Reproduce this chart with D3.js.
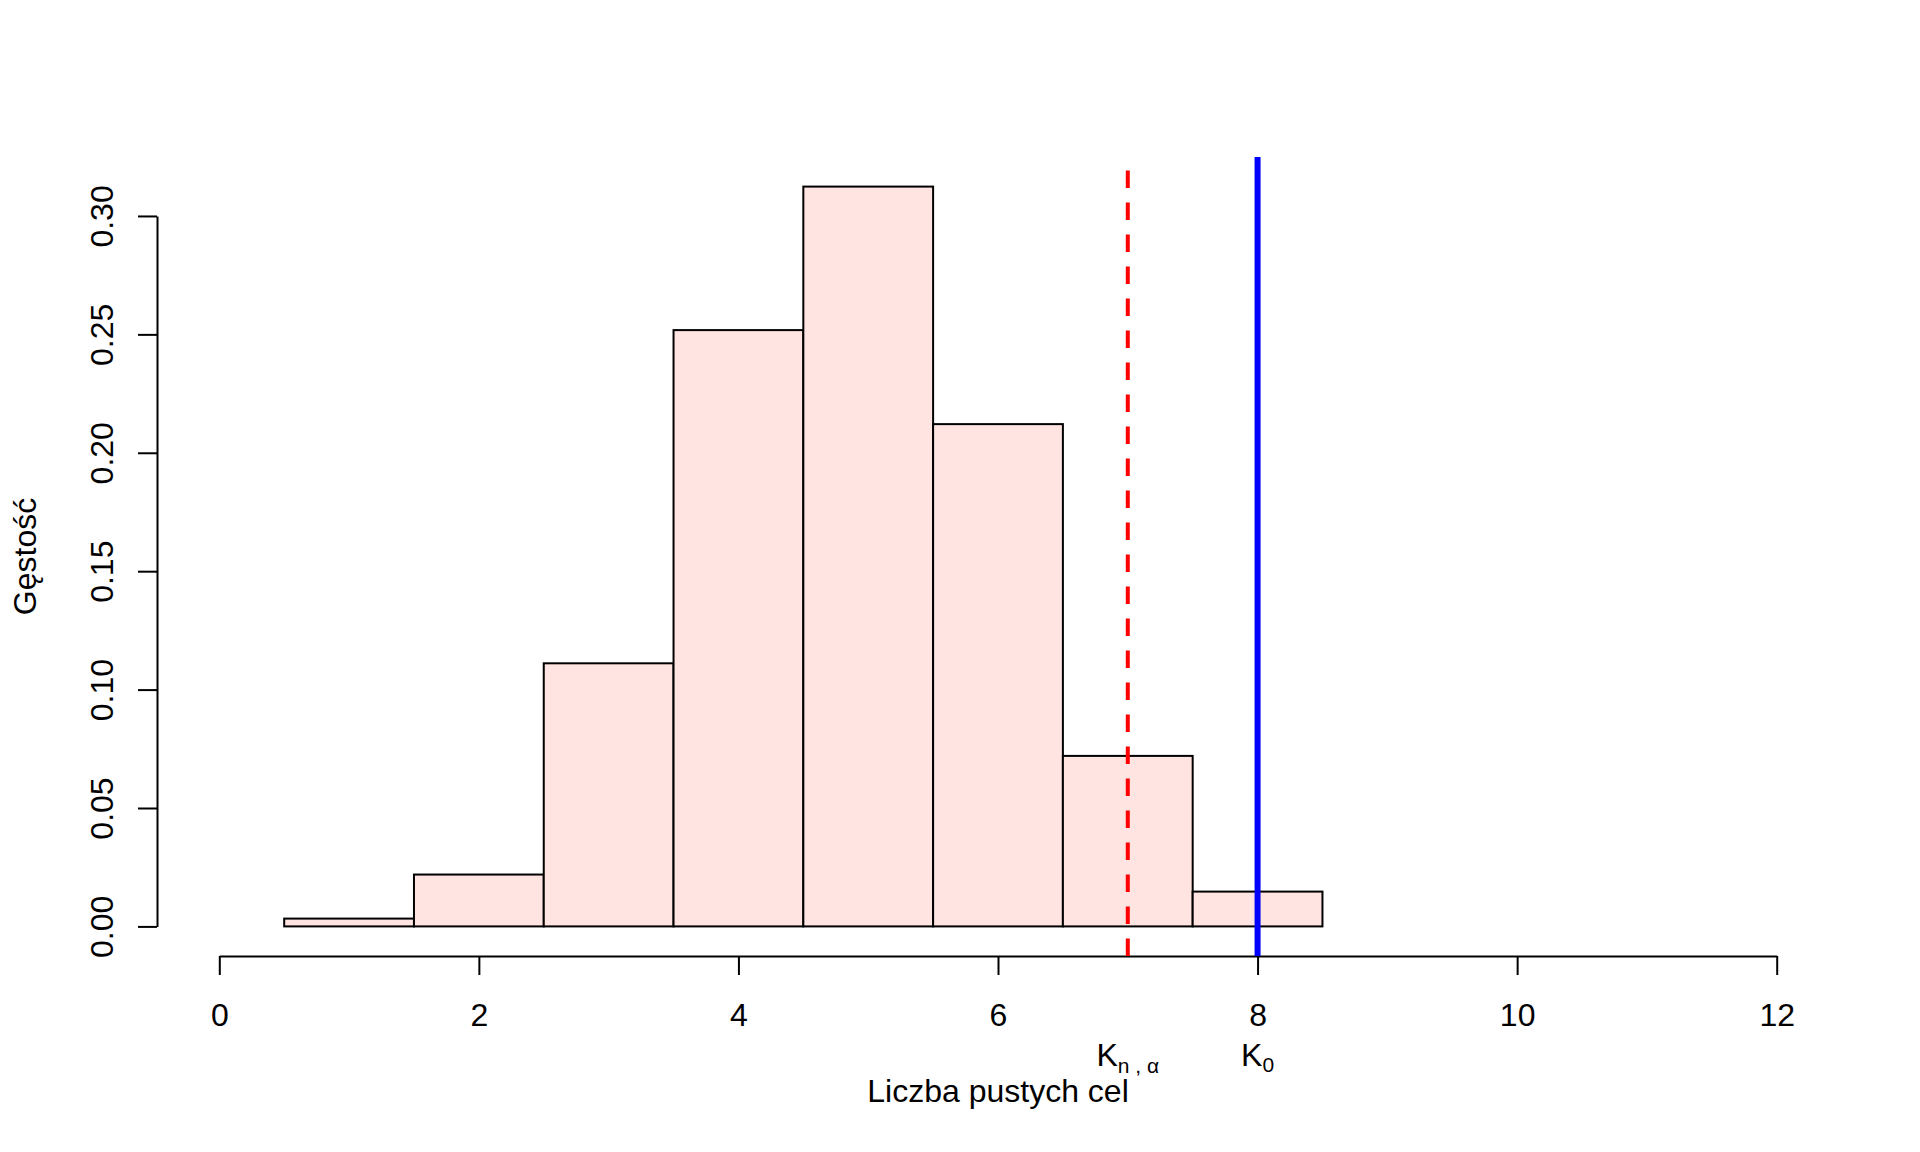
<!DOCTYPE html>
<html>
<head>
<meta charset="utf-8">
<script src="https://cdn.jsdelivr.net/npm/d3@7"></script>
<style>
  body { margin: 0; background: #fff; }
  svg { display: block; font-family: "Liberation Sans", Arial, sans-serif; }
</style>
</head>
<body>
<svg id="chart" width="1920" height="1152"></svg>
<script>
// histogram bins (left/right edges) and densities
var binStarts = [0.5, 1.5, 2.5, 3.5, 4.5, 5.5, 6.5, 7.5];
var binEnds   = [1.5, 2.5, 3.5, 4.5, 5.5, 6.5, 7.5, 8.5];
var densities = [0.0033, 0.0219, 0.1111, 0.2518, 0.3124, 0.2121, 0.0720, 0.0147];
var xTicks = [0, 2, 4, 6, 8, 10, 12];
var yTicks = [0, 0.05, 0.10, 0.15, 0.20, 0.25, 0.30];
var critValue = 7;   // K_{n,alpha}
var obsValue = 8;    // K_0
var xLabel = "Liczba pustych cel";
var yLabel = "Gęstość";

var W = 1920, H = 1152,
    margin = {left: 157, right: 81, top: 157, bottom: 196},
    fontSize = 32;

var svg = d3.select('#chart');

// R-like 4% range extension
var xlim = [0, 12], ylim = [0, d3.max(densities)];
var xr = (xlim[1] - xlim[0]) * 0.04, yr = (ylim[1] - ylim[0]) * 0.04;

var x = d3.scaleLinear().domain([xlim[0] - xr, xlim[1] + xr]).range([margin.left, W - margin.right]);
var y = d3.scaleLinear().domain([ylim[0] - yr, ylim[1] + yr]).range([H - margin.bottom, margin.top]);

var bins = binStarts.map(function(s, i){ return {x0: s, x1: binEnds[i], d: densities[i]}; });

// bars
svg.append('g').selectAll('rect').data(bins).enter().append('rect')
  .attr('x', function(b){ return x(b.x0); })
  .attr('y', function(b){ return y(b.d); })
  .attr('width', function(b){ return x(b.x1) - x(b.x0); })
  .attr('height', function(b){ return y(0) - y(b.d); })
  .style('fill', '#FFE4E1').style('stroke', '#000').style('stroke-width', 2);

// x axis (line only spans the tick range, like R)
var xAxisScale = x.copy().domain([0, 12]).range([x(0), x(12)]);
var gx = svg.append('g')
  .attr('transform', 'translate(0,' + (H - margin.bottom) + ')')
  .call(d3.axisBottom(xAxisScale).tickValues(xTicks).tickSize(19).tickSizeOuter(0).tickFormat(d3.format('d')));
gx.select('.domain').style('stroke-width', 2);
gx.selectAll('.tick line').style('stroke-width', 2);
gx.selectAll('.tick text').attr('y', 70).attr('dy', null)
  .style('font-size', fontSize + 'px').style('font-family', '"Liberation Sans", Arial, sans-serif').attr('fill', '#000');

// y axis
var yAxisScale = y.copy().domain([0, 0.3]).range([y(0), y(0.3)]);
var gy = svg.append('g')
  .attr('transform', 'translate(' + margin.left + ',0)')
  .call(d3.axisLeft(yAxisScale).tickValues(yTicks).tickSize(19).tickSizeOuter(0).tickFormat(d3.format('.2f')));
gy.select('.domain').style('stroke-width', 2);
gy.selectAll('.tick line').style('stroke-width', 2);
gy.selectAll('.tick text')
  .attr('transform', 'rotate(-90)')
  .attr('x', 0).attr('y', -44).attr('dy', null)
  .attr('text-anchor', 'middle')
  .style('font-size', fontSize + 'px').style('font-family', '"Liberation Sans", Arial, sans-serif').attr('fill', '#000');

// critical value: dashed red, observed: solid blue
svg.append('line')
  .attr('x1', x(critValue)).attr('x2', x(critValue))
  .attr('y1', y.range()[0]).attr('y2', y.range()[1])
  .style('stroke', '#FF0000').style('stroke-width', 4).style('stroke-dasharray', '17.5,14.5');
svg.append('line')
  .attr('x1', x(obsValue)).attr('x2', x(obsValue))
  .attr('y1', y.range()[0]).attr('y2', y.range()[1])
  .style('stroke', '#0000FF').style('stroke-width', 6);

// K labels under the axis
var kn = svg.append('text').attr('x', x(critValue)).attr('y', 1066)
  .attr('text-anchor', 'middle').style('font-size', fontSize + 'px');
kn.append('tspan').text('K');
kn.append('tspan').attr('dy', 7).style('font-size', '21px').text('n , α');

var k0 = svg.append('text').attr('x', x(obsValue)).attr('y', 1066)
  .attr('text-anchor', 'middle').style('font-size', fontSize + 'px');
k0.append('tspan').text('K');
k0.append('tspan').attr('dy', 6).style('font-size', '21px').text('0');

// axis titles
svg.append('text')
  .attr('x', (x.range()[0] + x.range()[1]) / 2).attr('y', 1102)
  .attr('text-anchor', 'middle').style('font-size', fontSize + 'px')
  .text(xLabel);

svg.append('text')
  .attr('transform', 'translate(36,' + ((y.range()[0] + y.range()[1]) / 2) + ')rotate(-90)')
  .attr('text-anchor', 'middle').style('font-size', fontSize + 'px')
  .text(yLabel);
</script>
</body>
</html>
